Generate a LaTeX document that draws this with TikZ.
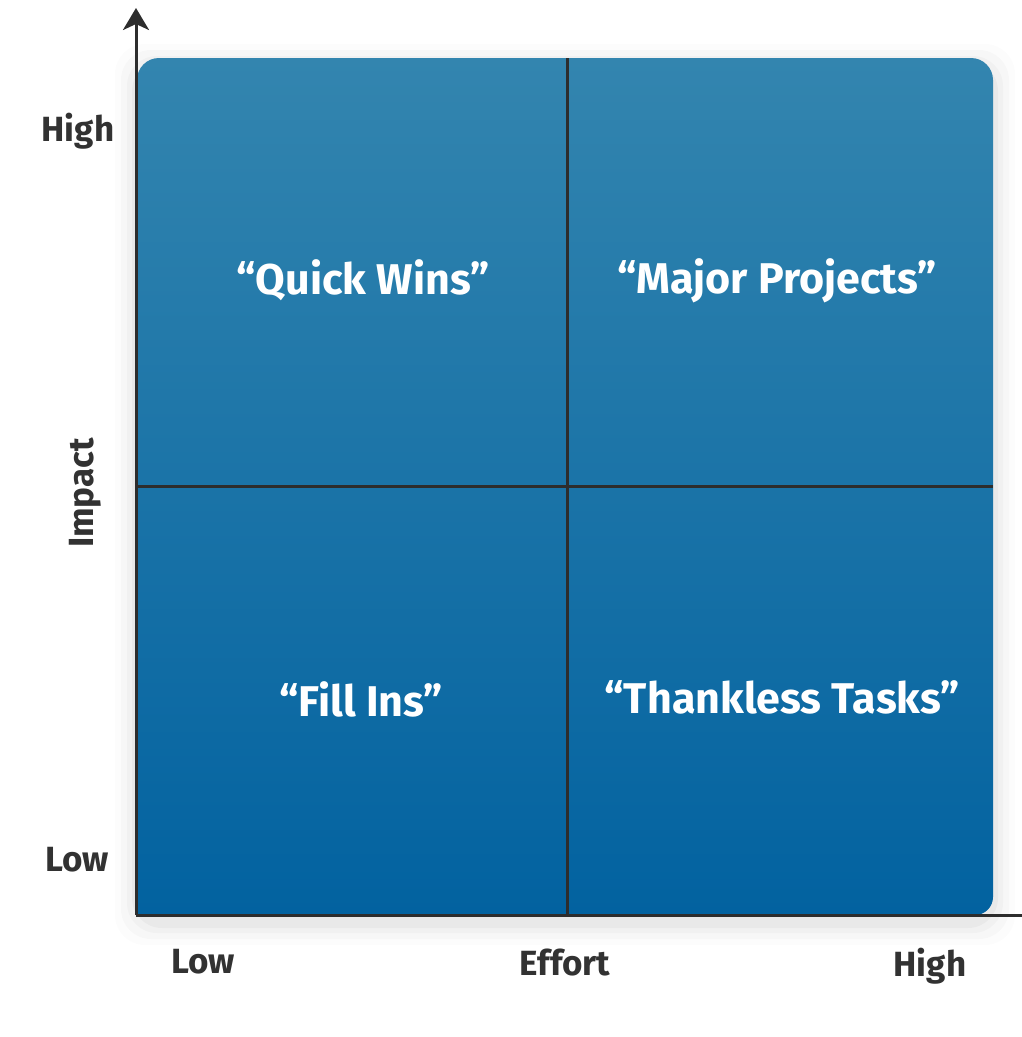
\documentclass[tikz,border=0pt]{standalone}
\usepackage{fontspec}
\setmainfont{Fira Sans}
\usetikzlibrary{arrows.meta}
\definecolor{topblue}{RGB}{51,133,175}
\definecolor{botblue}{RGB}{2,98,160}
\definecolor{axisgrey}{RGB}{45,45,45}
\definecolor{labelgrey}{RGB}{50,50,50}
\tikzset{
  quadlabel/.style={text=white, font=\bfseries\fontsize{43}{50}\selectfont, inner sep=0pt},
  axislabel/.style={text=labelgrey, font=\bfseries\fontsize{35}{42}\selectfont, inner sep=0pt},
  axisline/.style={draw=axisgrey, line width=3pt},
  divider/.style={draw=axisgrey, line width=3pt}
}
\begin{document}
\begin{tikzpicture}[x=1pt,y=-1pt]
\useasboundingbox (0,0) rectangle (1022,1037);
\fill[white] (0,0) rectangle (1022,1037);
% soft shadow
\foreach \d/\o in {22/0.012,16/0.018,10/0.025,5/0.03}{
  \fill[black, opacity=\o, rounded corners=30pt] (137-\d,58-\d+8) rectangle (993+\d,915+\d+8);
}
% main box
\shade[top color=topblue, bottom color=botblue]
  (137,915) -- (137,80) arc[start angle=180,end angle=270,radius=22] -- (971,58)
  arc[start angle=270,end angle=360,radius=22] -- (993,897)
  arc[start angle=0,end angle=90,radius=18] -- cycle;
% named coordinates
\coordinate (orig) at (136,915);
\coordinate (ytip) at (136,8);
\coordinate (xend) at (1022,915);
\coordinate (vtop) at (567,58);
\coordinate (vbot) at (567,915);
\coordinate (hl) at (137,486);
\coordinate (hr) at (993,486);
% dividers
\draw[divider] (vtop) -- (vbot);
\draw[divider] (hl) -- (hr);
% axes
\draw[axisline, -{Stealth[length=22pt,width=26pt,inset=6pt]}] (orig) -- (ytip);
\draw[axisline] (orig) -- (xend);
% quadrant labels
\node[quadlabel] (qw) at (363,280) {“Quick Wins”};
\node[quadlabel] (mp) at (777,281) {“Major Projects”};
\node[quadlabel] (fi) at (361,699) {“Fill Ins”};
\node[quadlabel] (tt) at (782,697) {“Thankless Tasks”};
% axis labels
\node[axislabel] (yh) at (78,131) {High};
\node[axislabel] (yl) at (77,860) {Low};
\node[axislabel, rotate=90] (imp) at (85,493) {Impact};
\node[axislabel] (xl) at (203,962) {Low};
\node[axislabel] (eff) at (565,963) {Effort};
\node[axislabel] (xh) at (930,966) {High};
\end{tikzpicture}
\end{document}
